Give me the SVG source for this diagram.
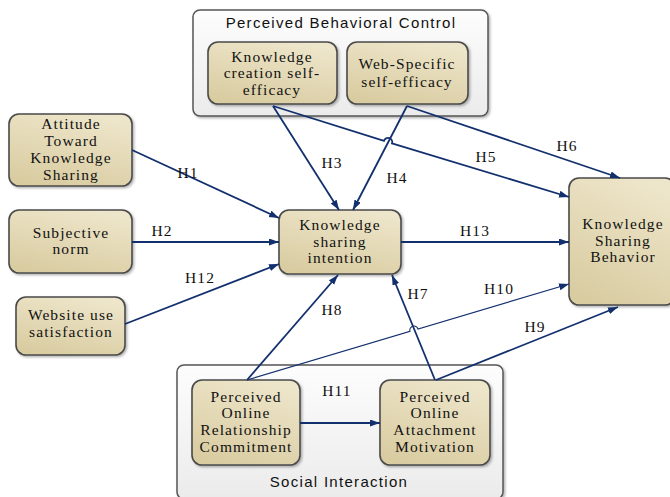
<svg xmlns="http://www.w3.org/2000/svg" width="670" height="497" viewBox="0 0 670 497">
<defs>
<linearGradient id="ng" x1="0.7" y1="0" x2="0.3" y2="1">
<stop offset="0" stop-color="#eee6cb"/>
<stop offset="1" stop-color="#d9cca1"/>
</linearGradient>
<linearGradient id="cg" x1="0" y1="0" x2="0" y2="1">
<stop offset="0" stop-color="#fdfdfd"/>
<stop offset="1" stop-color="#ebebeb"/>
</linearGradient>
<filter id="sh" x="-10%" y="-10%" width="130%" height="130%">
<feDropShadow dx="1.5" dy="1.5" stdDeviation="1.2" flood-color="#000" flood-opacity="0.3"/>
</filter>
<marker id="ar" markerUnits="userSpaceOnUse" markerWidth="11" markerHeight="8" refX="10" refY="3.5" orient="auto">
<path d="M0,0 L10,3.5 L0,7 z" fill="#13306e"/>
</marker>
<style>
.cont{fill:url(#cg);stroke:#555;stroke-width:1.5;filter:url(#sh)}
.node{fill:url(#ng);stroke:#4a4a4a;stroke-width:1.6;filter:url(#sh)}
.nt{font-family:"Liberation Serif","Times New Roman",serif;font-size:15.5px;letter-spacing:1.1px;fill:#111;text-anchor:middle}
.ct{font-family:"Liberation Sans",Arial,sans-serif;font-size:15px;letter-spacing:1.3px;fill:#111;text-anchor:middle}
.el{font-family:"Liberation Serif","Times New Roman",serif;font-size:15.5px;letter-spacing:1.1px;fill:#111;text-anchor:middle}
.cn{fill:none;stroke:#13306e;stroke-width:1.8;marker-end:url(#ar)}
.thin{stroke-width:1.1}
</style>
</defs>

<g id="pbc">
<rect class="cont" x="193" y="10" width="295" height="106" rx="7"/>
<text class="ct" x="341" y="28">Perceived Behavioral Control</text>
</g>
<g id="si">
<rect class="cont" x="177" y="365" width="326" height="134" rx="7"/>
<text class="ct" x="339" y="487">Social Interaction</text>
</g>

<g id="kcse">
<rect class="node" x="208" y="42" width="129" height="62" rx="10"/>
<text class="nt" x="272" y="62">Knowledge</text>
<text class="nt" x="272" y="78">creation self-</text>
<text class="nt" x="272" y="95">efficacy</text>
</g>
<g id="wsse">
<rect class="node" x="347" y="42" width="121" height="62" rx="10"/>
<text class="nt" x="407" y="69">Web-Specific</text>
<text class="nt" x="407" y="87">self-efficacy</text>
</g>
<g id="atks">
<rect class="node" x="9" y="114" width="123" height="72" rx="10"/>
<text class="nt" x="71" y="129">Attitude</text>
<text class="nt" x="71" y="146">Toward</text>
<text class="nt" x="71" y="163">Knowledge</text>
<text class="nt" x="71" y="180">Sharing</text>
</g>
<g id="sn">
<rect class="node" x="9" y="210" width="123" height="63" rx="10"/>
<text class="nt" x="71" y="238">Subjective</text>
<text class="nt" x="71" y="254">norm</text>
</g>
<g id="wus">
<rect class="node" x="16" y="297" width="109" height="58" rx="10"/>
<text class="nt" x="71" y="320">Website use</text>
<text class="nt" x="71" y="337">satisfaction</text>
</g>
<g id="ksi">
<rect class="node" x="279" y="210" width="122" height="64" rx="10"/>
<text class="nt" x="340" y="230">Knowledge</text>
<text class="nt" x="340" y="247">sharing</text>
<text class="nt" x="340" y="263">intention</text>
</g>
<g id="ksb">
<rect class="node" x="569" y="178" width="106" height="127" rx="10"/>
<text class="nt" x="623" y="229">Knowledge</text>
<text class="nt" x="623" y="246">Sharing</text>
<text class="nt" x="623" y="262">Behavior</text>
</g>
<g id="porc">
<rect class="node" x="192" y="380" width="108" height="85" rx="10"/>
<text class="nt" x="246" y="402">Perceived</text>
<text class="nt" x="246" y="418">Online</text>
<text class="nt" x="246" y="435">Relationship</text>
<text class="nt" x="246" y="452">Commitment</text>
</g>
<g id="poam">
<rect class="node" x="380" y="380" width="110" height="85" rx="10"/>
<text class="nt" x="435" y="402">Perceived</text>
<text class="nt" x="435" y="418">Online</text>
<text class="nt" x="435" y="435">Attachment</text>
<text class="nt" x="435" y="452">Motivation</text>
</g>

<g id="connectors">
<path class="cn" d="M132,150 L279,218"/>
<path class="cn" d="M132,242 L279,242"/>
<path class="cn" d="M125,324 L279,264"/>
<path class="cn" d="M273,106 L339,210"/>
<path class="cn" d="M407,106 L353,210"/>
<path class="cn" d="M273,106 L384,140.8 A4,4 0 0 1 392,143.4 L569,197"/>
<path class="cn" d="M407,106 L620,178"/>
<path class="cn" d="M401,242 L569,242"/>
<path class="cn thin" d="M247,380 L410,331.4 A4,4 0 0 1 418,329 L569,284"/>
<path class="cn" d="M436,380 L618,307"/>
<path class="cn" d="M247,380 L338,275"/>
<path class="cn" d="M435,380 L392,275"/>
<path class="cn" d="M300,423 L380,423"/>
<text class="el" x="188" y="178">H1</text>
<text class="el" x="162" y="236">H2</text>
<text class="el" x="200" y="283">H12</text>
<text class="el" x="332" y="168">H3</text>
<text class="el" x="397" y="183">H4</text>
<text class="el" x="486" y="162">H5</text>
<text class="el" x="567" y="151">H6</text>
<text class="el" x="475" y="236">H13</text>
<text class="el" x="499" y="294">H10</text>
<text class="el" x="418" y="299">H7</text>
<text class="el" x="332" y="315">H8</text>
<text class="el" x="535" y="332">H9</text>
<text class="el" x="337" y="396">H11</text>
</g>
</svg>
